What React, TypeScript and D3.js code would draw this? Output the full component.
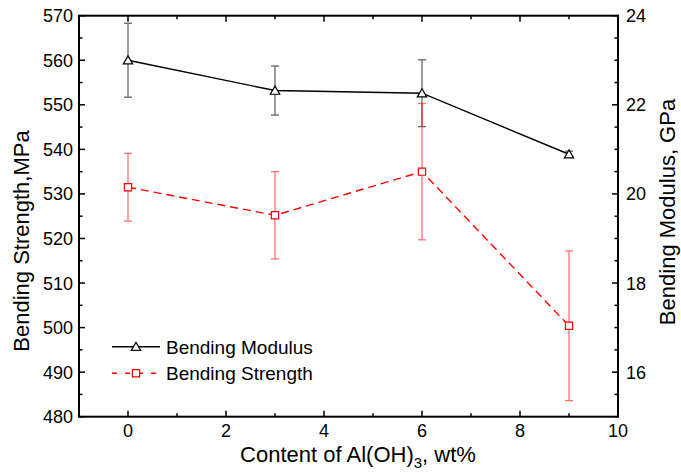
import React, { useEffect, useRef } from "react";
import * as d3 from "d3";

// data
const contents = [0, 3, 6, 9];
const modulus = [23.0, 22.32, 22.26, 20.89];
const modulusErr = [0.83, 0.55, 0.75, 0.07];
const strength = [531.5, 525.2, 535.0, 500.4];
const strengthErr = [7.6, 9.8, 15.3, 16.8];

const xTicks = [0, 2, 4, 6, 8, 10];
const leftTicks = [480, 490, 500, 510, 520, 530, 540, 550, 560, 570];
const rightTicks = [16, 18, 20, 22, 24];

const W = 681;
const H = 473;
const FONT = "'Liberation Sans', Arial, Helvetica, sans-serif";

const App = () => {
  const svgRef = useRef<SVGSVGElement | null>(null);

  useEffect(() => {
    const svg = d3.select(svgRef.current);
    svg.selectAll("*").remove();

    const left = 79, right = 618, top = 15.7, bottom = 416.7;

    const x = d3.scaleLinear().domain([-1, 10]).range([left, right]);
    const yL = d3.scaleLinear().domain([480, 570]).range([bottom, top]);
    const yR = d3.scaleLinear().domain([15, 24]).range([bottom, top]);

    const major = 6, minor = 3.5;

    const tick = (x1: number, y1: number, x2: number, y2: number) => {
      svg.append("line")
        .attr("x1", x1).attr("y1", y1).attr("x2", x2).attr("y2", y2)
        .style("stroke", "black").style("stroke-width", 1.5);
    };

    // x ticks, bottom and top
    d3.range(-1, 10.01, 1).forEach(v => {
      const len = v % 2 === 0 ? major : minor;
      tick(x(v), bottom, x(v), bottom - len);
      tick(x(v), top, x(v), top + len);
    });
    xTicks.forEach(v => {
      svg.append("text")
        .attr("x", x(v)).attr("y", 437)
        .attr("text-anchor", "middle")
        .style("font-size", "18px").style("font-family", FONT)
        .text(v);
    });

    // left axis
    d3.range(480, 570.01, 5).forEach(v => {
      tick(left, yL(v), left + (v % 10 === 0 ? major : minor), yL(v));
    });
    leftTicks.forEach(v => {
      svg.append("text")
        .attr("x", 73).attr("y", yL(v)).attr("dy", "0.36em")
        .attr("text-anchor", "end")
        .style("font-size", "18px").style("font-family", FONT)
        .text(v);
    });

    // right axis
    d3.range(15, 24.01, 0.5).forEach(v => {
      tick(right, yR(v), right - (v % 2 === 0 ? major : minor), yR(v));
    });
    rightTicks.forEach(v => {
      svg.append("text")
        .attr("x", 626).attr("y", yR(v)).attr("dy", "0.36em")
        .style("font-size", "18px").style("font-family", FONT)
        .text(v);
    });

    // frame
    svg.append("rect")
      .attr("x", left).attr("y", top)
      .attr("width", right - left).attr("height", bottom - top)
      .style("fill", "none").style("stroke", "black").style("stroke-width", 2);

    // axis titles
    svg.append("text")
      .attr("transform", `translate(29,241) rotate(-90)`)
      .attr("text-anchor", "middle")
      .style("font-size", "22px").style("font-family", FONT)
      .text("Bending Strength,MPa");

    svg.append("text")
      .attr("transform", `translate(675,212) rotate(-90)`)
      .attr("text-anchor", "middle")
      .style("font-size", "22px").style("font-family", FONT)
      .text("Bending Modulus, GPa");

    const xt = svg.append("text")
      .attr("x", 358).attr("y", 462)
      .attr("text-anchor", "middle")
      .style("font-size", "22px").style("font-family", FONT);
    xt.append("tspan").text("Content of Al(OH)");
    xt.append("tspan").attr("dy", 6).style("font-size", "15px").text("3");
    xt.append("tspan").attr("dy", -6).text(", wt%");

    const errorBars = (ys: d3.ScaleLinear<number, number>, vals: number[], errs: number[], colour: string, opacity: number) => {
      contents.forEach((c, i) => {
        const cx = x(c);
        const y1 = ys(vals[i] + errs[i]);
        const y2 = ys(vals[i] - errs[i]);
        const g = svg.append("g").style("stroke", colour).style("stroke-width", 1.3).style("opacity", opacity);
        g.append("line").attr("x1", cx).attr("x2", cx).attr("y1", y1).attr("y2", y2);
        g.append("line").attr("x1", cx - 4).attr("x2", cx + 4).attr("y1", y1).attr("y2", y1);
        g.append("line").attr("x1", cx - 4).attr("x2", cx + 4).attr("y1", y2).attr("y2", y2);
      });
    };

    errorBars(yR, modulus, modulusErr, "black", 0.6);
    errorBars(yL, strength, strengthErr, "#ff0000", 0.55);

    const modLine = d3.line<number>().x((d, i) => x(contents[i])).y(d => yR(d));
    const strLine = d3.line<number>().x((d, i) => x(contents[i])).y(d => yL(d));

    svg.append("path")
      .attr("d", modLine(modulus))
      .style("fill", "none").style("stroke", "black").style("stroke-width", 1.4);

    svg.append("path")
      .attr("d", strLine(strength))
      .style("fill", "none").style("stroke", "#ff0000").style("stroke-width", 1.4)
      .style("stroke-dasharray", "8,5");

    const tri = d3.symbol().type(d3.symbolTriangle).size(38);
    const sq = d3.symbol().type(d3.symbolSquare).size(52);

    const drawTri = (cx: number, cy: number) => {
      svg.append("path")
        .attr("d", tri())
        .attr("transform", `translate(${cx},${cy + 1})`)
        .style("fill", "white").style("stroke", "black").style("stroke-width", 1.2);
    };
    const drawSq = (cx: number, cy: number) => {
      svg.append("path")
        .attr("d", sq())
        .attr("transform", `translate(${cx},${cy})`)
        .style("fill", "white").style("stroke", "#ff0000").style("stroke-width", 1.2);
    };

    contents.forEach((c, i) => drawTri(x(c), yR(modulus[i])));
    contents.forEach((c, i) => drawSq(x(c), yL(strength[i])));

    // legend
    const lx1 = 112, lx2 = 160, lm = 136, ltx = 166;
    const ly1 = 346.7, ly2 = 373.3;
    svg.append("line")
      .attr("x1", lx1).attr("x2", lx2).attr("y1", ly1).attr("y2", ly1)
      .style("stroke", "black").style("stroke-width", 1.4);
    drawTri(lm, ly1);
    svg.append("text")
      .attr("x", ltx).attr("y", ly1).attr("dy", "0.36em")
      .style("font-size", "19px").style("font-family", FONT)
      .text("Bending Modulus");

    svg.append("line")
      .attr("x1", lx1).attr("x2", lx2).attr("y1", ly2).attr("y2", ly2)
      .style("stroke", "#ff0000").style("stroke-width", 1.4)
      .style("stroke-dasharray", "5,8");
    drawSq(lm, ly2);
    svg.append("text")
      .attr("x", ltx).attr("y", ly2).attr("dy", "0.36em")
      .style("font-size", "19px").style("font-family", FONT)
      .text("Bending Strength");
  }, []);

  return (
    <svg
      ref={svgRef}
      width={W}
      height={H}
      style={{ position: "absolute", left: 0, top: 0, background: "white" }}
    />
  );
};

export default App;
